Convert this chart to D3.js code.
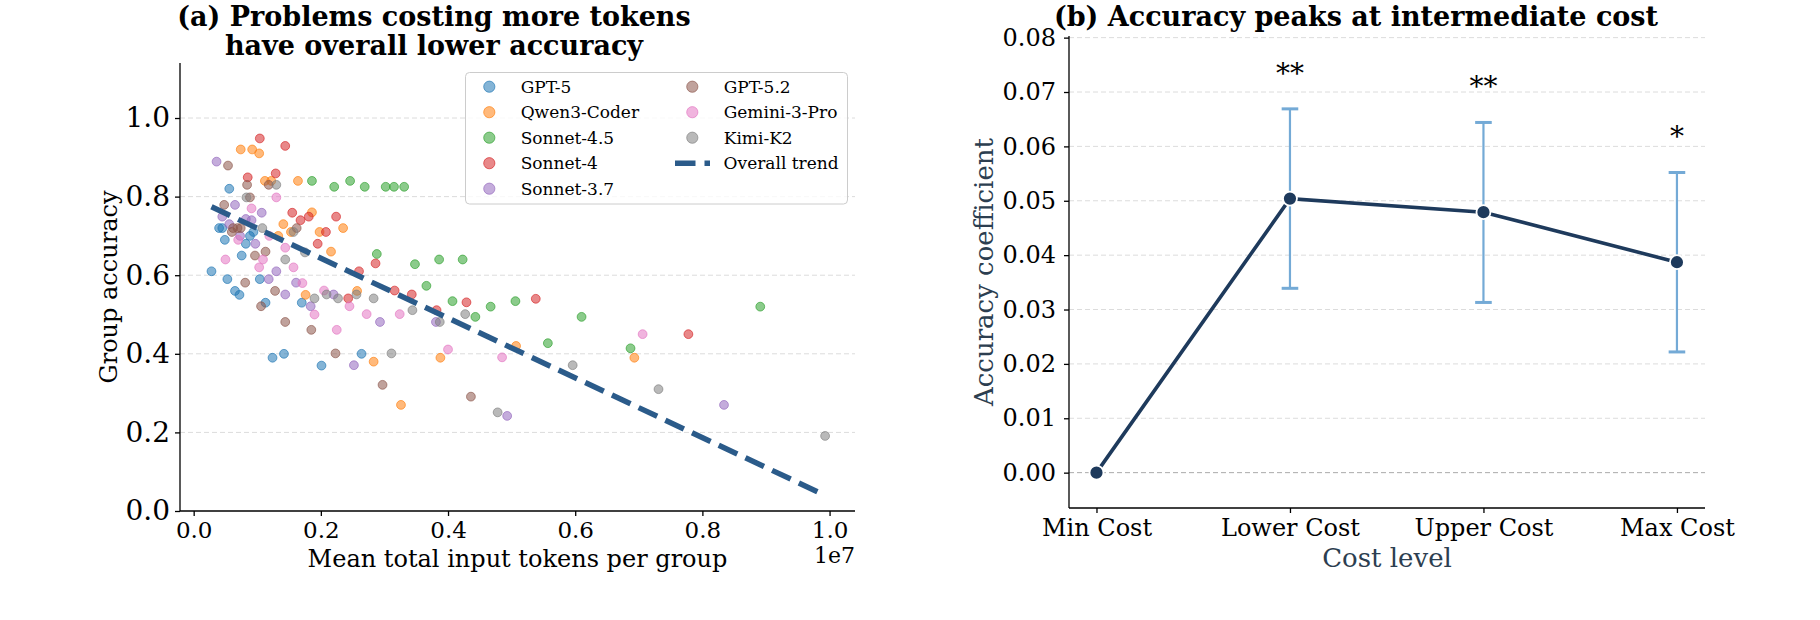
<!DOCTYPE html>
<html>
<head>
<meta charset="utf-8">
<script src="https://cdn.jsdelivr.net/npm/d3@7"></script>
<style>
  body { margin: 0; background: #fff; }
  text { font-family: "DejaVu Serif", serif; }
</style>
</head>
<body>
<svg id="chart" width="1820" height="620"></svg>
<script>
// ---- panel (a) data: [mean input tokens (millions), group accuracy] ----
var modelNames = ['GPT-5', 'Qwen3-Coder', 'Sonnet-4.5', 'Sonnet-4', 'Sonnet-3.7', 'GPT-5.2', 'Gemini-3-Pro', 'Kimi-K2'];
var modelColors = ['#1f77b4', '#ff7f0e', '#2ca02c', '#d62728', '#9467bd', '#8c564b', '#e377c2', '#7f7f7f'];

var gpt5 = [[0.56,0.82],[0.40,0.72],[0.45,0.72],[0.94,0.71],[0.885,0.70],[0.49,0.69],[0.82,0.68],[0.755,0.65],
  [0.28,0.61],[0.53,0.59],[1.04,0.59],[0.65,0.56],[0.72,0.55],[1.13,0.53],[1.70,0.53],[1.24,0.39],[1.42,0.40],
  [2.01,0.37],[2.64,0.40]];
var qwen3Coder = [[0.74,0.92],[0.92,0.92],[1.03,0.91],[1.12,0.84],[1.22,0.84],[1.64,0.84],[1.86,0.76],[1.41,0.73],
  [2.35,0.72],[1.53,0.71],[1.98,0.71],[1.33,0.70],[2.16,0.66],[1.76,0.55],[2.57,0.56],[2.83,0.38],[3.26,0.27],
  [3.88,0.39],[5.07,0.42],[6.93,0.39]];
var sonnet45 = [[1.86,0.84],[2.21,0.825],[2.46,0.84],[2.69,0.825],[3.02,0.825],[3.15,0.825],[3.31,0.825],[2.88,0.654],
  [3.48,0.628],[3.66,0.573],[3.86,0.64],[4.07,0.534],[4.23,0.64],[4.43,0.494],[4.67,0.52],[5.06,0.534],[5.57,0.427],
  [6.10,0.494],[6.87,0.414],[8.91,0.52]];
var sonnet4 = [[1.04,0.948],[1.44,0.929],[1.29,0.859],[0.85,0.849],[1.55,0.759],[2.24,0.749],[1.81,0.749],[1.68,0.74],
  [2.08,0.71],[1.95,0.68],[2.86,0.63],[2.60,0.61],[2.43,0.541],[3.16,0.561],[3.43,0.551],[3.82,0.511],[4.29,0.531],
  [5.38,0.54],[7.78,0.45]];
var sonnet37 = [[0.36,0.889],[0.65,0.779],[1.07,0.759],[0.45,0.749],[0.56,0.73],[0.82,0.743],[0.91,0.74],[0.73,0.70],
  [0.97,0.68],[1.30,0.61],[1.18,0.59],[1.44,0.551],[1.61,0.581],[1.84,0.521],[2.20,0.551],[2.93,0.481],[2.52,0.371],
  [3.81,0.481],[4.93,0.242],[8.34,0.27]];
var gpt52 = [[0.54,0.879],[0.84,0.83],[1.18,0.83],[0.885,0.798],[0.48,0.779],[0.62,0.72],[0.69,0.72],[0.74,0.72],
  [0.60,0.71],[1.62,0.72],[0.964,0.65],[1.13,0.66],[0.81,0.581],[1.28,0.56],[1.06,0.521],[1.44,0.481],[1.85,0.461],
  [2.23,0.401],[2.97,0.321],[4.36,0.291]];
var gemini3Pro = [[1.30,0.798],[0.91,0.77],[0.70,0.69],[1.19,0.70],[1.44,0.67],[0.50,0.64],[1.09,0.64],[1.03,0.62],
  [1.57,0.62],[1.71,0.58],[1.90,0.50],[2.05,0.561],[2.25,0.461],[2.45,0.521],[2.72,0.501],[3.24,0.501],[4.00,0.411],
  [4.85,0.391],[7.06,0.45]];
var kimiK2 = [[1.30,0.83],[0.83,0.798],[1.08,0.72],[1.57,0.71],[1.75,0.658],[1.44,0.64],[1.90,0.541],[2.09,0.551],
  [2.27,0.541],[2.56,0.551],[2.83,0.541],[3.11,0.401],[3.44,0.511],[3.87,0.481],[4.27,0.501],[4.78,0.251],[5.96,0.371],
  [7.31,0.31],[9.93,0.191]];
var modelPoints = [gpt5, qwen3Coder, sonnet45, sonnet4, sonnet37, gpt52, gemini3Pro, kimiK2];

// overall trend end points (millions, accuracy)
var trendX = [0.28, 9.93];
var trendY = [0.774, 0.040];

var tokenTicks = [0, 2, 4, 6, 8, 10];        // millions -> shown as x1e7
var accTicks = [0.0, 0.2, 0.4, 0.6, 0.8, 1.0];

// ---- panel (b) data ----
var costLevels = ['Min Cost', 'Lower Cost', 'Upper Cost', 'Max Cost'];
var coefValues = [0.0, 0.0504, 0.0479, 0.0387];
var ciLow = [null, 0.0339, 0.0313, 0.0222];
var ciHigh = [null, 0.0669, 0.0644, 0.0552];
var sigStars = ['', '**', '**', '*'];
var coefTicks = [0.00, 0.01, 0.02, 0.03, 0.04, 0.05, 0.06, 0.07, 0.08];

var serif = '"DejaVu Serif", serif';
var svg = d3.select('#chart');

drawScatterPanel();
drawCoefPanel();

function styleAxis(g, fontSize) {
  g.select('.domain').attr('stroke', '#000').attr('stroke-width', 1.3);
  g.selectAll('.tick line').attr('stroke', '#000').attr('stroke-width', 1.3);
  g.selectAll('.tick text').attr('fill', '#000')
    .style('font-family', serif).style('font-size', fontSize + 'px');
}

function drawScatterPanel() {
  var x = d3.scaleLinear().domain([-0.215, 10.4]).range([180, 855]);
  var y = d3.scaleLinear().domain([0, 1.14]).range([511, 63]);

  // horizontal grid
  svg.append('g').selectAll('line').data(accTicks.slice(1)).enter().append('line')
    .attr('x1', 180).attr('x2', 855)
    .attr('y1', function (d) { return y(d); }).attr('y2', function (d) { return y(d); })
    .attr('stroke', '#dcdcdc').attr('stroke-width', 1).attr('stroke-dasharray', '5,3');

  var xAxis = svg.append('g').attr('transform', 'translate(0,511)')
    .call(d3.axisBottom(x).tickValues(tokenTicks).tickSize(5).tickPadding(6)
      .tickFormat(function (d) { return (d / 10).toFixed(1); }));
  styleAxis(xAxis, 23);
  xAxis.select('.domain').attr('d', 'M180,0H855');

  var yAxis = svg.append('g').attr('transform', 'translate(180,0)')
    .call(d3.axisLeft(y).tickValues(accTicks).tickSize(5).tickPadding(5)
      .tickFormat(d3.format('.1f')));
  styleAxis(yAxis, 28);
  yAxis.select('.domain').attr('d', 'M0,511V63');

  // points, one layer per model
  modelPoints.forEach(function (pts, i) {
    svg.append('g').selectAll('circle').data(pts).enter().append('circle')
      .attr('cx', function (d) { return x(d[0]); })
      .attr('cy', function (d) { return y(d[1]); })
      .attr('r', 4.4)
      .attr('fill', modelColors[i]).attr('fill-opacity', 0.55)
      .attr('stroke', modelColors[i]).attr('stroke-opacity', 0.65).attr('stroke-width', 1);
  });

  // overall trend
  svg.append('line')
    .attr('x1', x(trendX[0])).attr('y1', y(trendY[0]))
    .attr('x2', x(trendX[1])).attr('y2', y(trendY[1]))
    .attr('stroke', '#2b5b8a').attr('stroke-width', 5.5).attr('stroke-dasharray', '20.5,9');

  // legend
  var lg = svg.append('g');
  lg.append('rect').attr('x', 465.5).attr('y', 72.5).attr('width', 382).attr('height', 131.5)
    .attr('rx', 4).attr('fill', '#fff').attr('fill-opacity', 0.8)
    .attr('stroke', '#cccccc').attr('stroke-width', 1);
  modelNames.forEach(function (name, i) {
    var col = i < 5 ? 0 : 1;
    var row = i < 5 ? i : i - 5;
    var cy = 86.7 + row * 25.5;
    var mx = col === 0 ? 489.3 : 692.3;
    lg.append('circle').attr('cx', mx).attr('cy', cy).attr('r', 5.6)
      .attr('fill', modelColors[i]).attr('fill-opacity', 0.55)
      .attr('stroke', modelColors[i]).attr('stroke-opacity', 0.65).attr('stroke-width', 1);
    lg.append('text').attr('x', mx + 31.4).attr('y', cy).attr('dy', '0.35em')
      .style('font-family', serif).style('font-size', '17px').attr('fill', '#000').text(name);
  });
  var trendRow = 86.7 + 3 * 25.5;
  lg.append('line').attr('x1', 675).attr('x2', 710).attr('y1', trendRow).attr('y2', trendRow)
    .attr('stroke', '#2b5b8a').attr('stroke-width', 5.5).attr('stroke-dasharray', '20.5,9');
  lg.append('text').attr('x', 723.6).attr('y', trendRow).attr('dy', '0.35em')
    .style('font-family', serif).style('font-size', '17px').attr('fill', '#000').text('Overall trend');

  // labels
  svg.append('text').attr('x', 517.5).attr('y', 567).attr('text-anchor', 'middle')
    .style('font-size', '24px').attr('fill', '#000').text('Mean total input tokens per group');
  svg.append('text').attr('x', 855).attr('y', 563).attr('text-anchor', 'end')
    .style('font-size', '22px').attr('fill', '#000').text('1e7');
  svg.append('text').attr('transform', 'translate(117,287) rotate(-90)').attr('text-anchor', 'middle')
    .style('font-size', '24px').attr('fill', '#000').text('Group accuracy');

  var title = svg.append('text').attr('text-anchor', 'middle')
    .style('font-size', '27px').style('font-weight', 'bold').attr('fill', '#000');
  title.append('tspan').attr('x', 434).attr('y', 26).text('(a) Problems costing more tokens');
  title.append('tspan').attr('x', 434).attr('y', 55).text('have overall lower accuracy');
}

function drawCoefPanel() {
  var x = d3.scaleLinear().domain([-0.142, 3.145]).range([1069, 1705]);
  var y = d3.scaleLinear().domain([-0.0065, 0.0803]).range([508, 36]);
  var idx = d3.range(costLevels.length);

  svg.append('g').selectAll('line').data(coefTicks).enter().append('line')
    .attr('x1', 1069).attr('x2', 1705)
    .attr('y1', function (d) { return y(d); }).attr('y2', function (d) { return y(d); })
    .attr('stroke', function (d) { return d === 0 ? '#aaaaaa' : '#dcdcdc'; })
    .attr('stroke-width', 1).attr('stroke-dasharray', '5,3');

  var xAxis = svg.append('g').attr('transform', 'translate(0,508)')
    .call(d3.axisBottom(x).tickValues(idx).tickSize(5).tickPadding(6)
      .tickFormat(function (d) { return costLevels[d]; }));
  styleAxis(xAxis, 24);
  xAxis.select('.domain').attr('d', 'M1069,0H1705');

  var yAxis = svg.append('g').attr('transform', 'translate(1069,0)')
    .call(d3.axisLeft(y).tickValues(coefTicks).tickSize(5).tickPadding(8)
      .tickFormat(d3.format('.2f')));
  styleAxis(yAxis, 24);
  yAxis.select('.domain').attr('d', 'M0,508V36');

  // confidence intervals
  var ci = idx.filter(function (i) { return ciLow[i] !== null; });
  var eb = svg.append('g').attr('stroke', '#74aad6');
  eb.selectAll('line.v').data(ci).enter().append('line')
    .attr('x1', function (i) { return x(i); }).attr('x2', function (i) { return x(i); })
    .attr('y1', function (i) { return y(ciLow[i]); }).attr('y2', function (i) { return y(ciHigh[i]); })
    .attr('stroke-width', 2.2);
  [ciLow, ciHigh].forEach(function (arr) {
    eb.selectAll(null).data(ci).enter().append('line')
      .attr('x1', function (i) { return x(i) - 8.3; }).attr('x2', function (i) { return x(i) + 8.3; })
      .attr('y1', function (i) { return y(arr[i]); }).attr('y2', function (i) { return y(arr[i]); })
      .attr('stroke-width', 3);
  });

  var line = d3.line().x(function (i) { return x(i); }).y(function (i) { return y(coefValues[i]); });
  svg.append('path').datum(idx).attr('d', line)
    .attr('fill', 'none').attr('stroke', '#1e3a5c').attr('stroke-width', 3.6);

  svg.append('g').selectAll('circle').data(idx).enter().append('circle')
    .attr('cx', function (i) { return x(i); }).attr('cy', function (i) { return y(coefValues[i]); })
    .attr('r', 7).attr('fill', '#1e3a5c').attr('stroke', '#fff').attr('stroke-width', 1.8);

  svg.append('g').selectAll('text').data(ci).enter().append('text')
    .attr('x', function (i) { return x(i); })
    .attr('y', function (i) { return y(ciHigh[i] + 0.0048); })
    .attr('text-anchor', 'middle').style('font-size', '28px').attr('fill', '#000')
    .text(function (i) { return sigStars[i]; });

  svg.append('text').attr('x', 1387).attr('y', 567).attr('text-anchor', 'middle')
    .style('font-size', '26px').attr('fill', '#2c3e50').text('Cost level');
  svg.append('text').attr('transform', 'translate(993,272) rotate(-90)').attr('text-anchor', 'middle')
    .style('font-size', '26px').attr('fill', '#2c3e50').text('Accuracy coefficient');
  svg.append('text').attr('x', 1356).attr('y', 26).attr('text-anchor', 'middle')
    .style('font-size', '27px').style('font-weight', 'bold').attr('fill', '#000')
    .text('(b) Accuracy peaks at intermediate cost');
}
</script>
</body>
</html>
